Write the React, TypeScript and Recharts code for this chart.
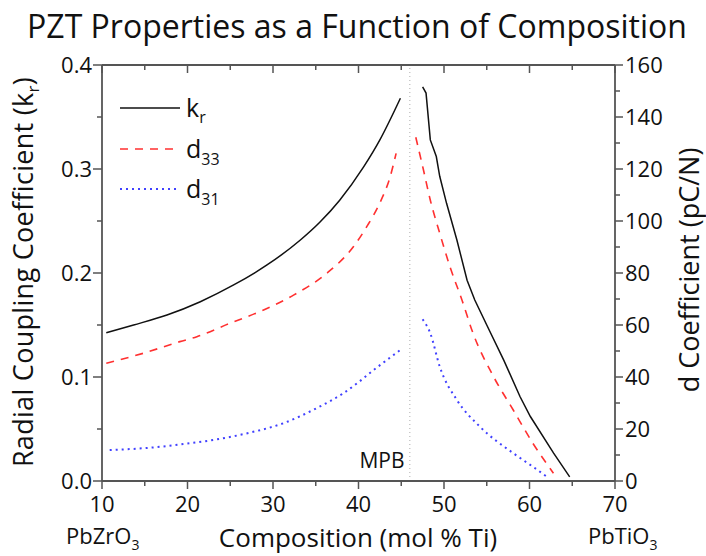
import React from "react";
import { LineChart, Line, XAxis, YAxis, ReferenceLine } from "recharts";

const krLeftX = [10.5, 13.7, 17.6, 21.5, 25.4, 29.3, 33.2, 35.5, 37.8, 40.6, 42.5, 44.9];
const krLeftY = [0.1426, 0.15, 0.1596, 0.1724, 0.1885, 0.2077, 0.2317, 0.249, 0.27, 0.302, 0.328, 0.368];
const krRightX = [47.5, 47.9, 48.4, 49.1, 49.5, 50.3, 51.5, 52.7, 53.6, 55.0, 57.0, 58.9, 60.1, 62.8, 64.7];
const krRightY = [0.379, 0.373, 0.328, 0.312, 0.293, 0.267, 0.232, 0.193, 0.174, 0.15, 0.116, 0.081, 0.062, 0.027, 0.004];
const d33LeftX = [10.5, 14.8, 19.1, 21.1, 25.0, 28.9, 32.4, 36.3, 39.4, 41.0, 42.5, 43.7, 44.4];
const d33LeftY = [45.3, 49.1, 53.6, 55.5, 60.7, 65.8, 71.5, 79.9, 90.1, 98, 107, 117, 126];
const d33RightX = [46.7, 47.6, 48.4, 49.5, 50.7, 52.1, 53.4, 55.8, 58.1, 60.4, 62.8];
const d33RightY = [132.2, 119.6, 108, 95.3, 82.4, 69.6, 56.8, 40.1, 27.3, 14.5, 3.0];
const d31LeftX = [10.9, 15.6, 19.5, 23.4, 27.3, 31.2, 35.1, 38.2, 40.2, 41.7, 43.3, 44.9];
const d31LeftY = [11.9, 12.8, 14.2, 16.0, 18.6, 22.2, 28.0, 33.7, 38.5, 42.5, 46.5, 50.4];
const d31RightX = [47.5, 48.4, 49.5, 51.5, 54.2, 58.1, 60.4, 62.0];
const d31RightY = [62.2, 56.8, 44, 31.2, 20.9, 10.7, 5.5, 1.7];

const xTicks = [10, 15, 20, 25, 30, 35, 40, 45, 50, 55, 60, 65, 70];
const leftTicks = [0, 0.05, 0.1, 0.15, 0.2, 0.25, 0.3, 0.35, 0.4];
const rightTicks = [0, 10, 20, 30, 40, 50, 60, 70, 80, 90, 100, 110, 120, 130, 140, 150, 160];
const mpbX = 46;

const zip = (xs: number[], ys: number[]) => xs.map((x, i) => ({ x, v: ys[i] }));

const W = 706;
const H = 556;
const TOP = 65;
const BOTTOM = 481;
const FONT = "'Open Sans', 'Noto Sans', sans-serif";
const AX = "#555";
const TICK_FS = 22;

const BottomTick = (props: any) => {
  const { x, payload } = props;
  const major = payload.value % 10 === 0;
  const len = major ? 8 : 5;
  return (
    <g>
      <line x1={x} x2={x} y1={BOTTOM} y2={BOTTOM + len} stroke={AX} strokeWidth={1.5} />
      <line x1={x} x2={x} y1={TOP} y2={TOP + len} stroke={AX} strokeWidth={1.5} />
      {major && (
        <text x={x} y={512} textAnchor="middle" fontSize={TICK_FS} fill="#111" fontFamily={FONT}>
          {payload.value}
        </text>
      )}
    </g>
  );
};

const LeftTick = (props: any) => {
  const { y, payload } = props;
  const major = Math.round(payload.value * 100) % 10 === 0;
  const len = major ? 9 : 5;
  return (
    <g>
      <line x1={102} x2={102 - len} y1={y} y2={y} stroke={AX} strokeWidth={1.5} />
      {major && (
        <text x={92} y={y + 8} textAnchor="end" fontSize={TICK_FS} fill="#111" fontFamily={FONT}>
          {payload.value.toFixed(1)}
        </text>
      )}
    </g>
  );
};

const RightTick = (props: any) => {
  const { y, payload } = props;
  const major = payload.value % 20 === 0;
  const len = major ? 8 : 5;
  return (
    <g>
      <line x1={615} x2={615 + len} y1={y} y2={y} stroke={AX} strokeWidth={1.5} />
      {major && (
        <text x={625} y={y + 8} textAnchor="start" fontSize={TICK_FS} fill="#111" fontFamily={FONT}>
          {payload.value}
        </text>
      )}
    </g>
  );
};

export default function App() {
  return (
    <div style={{ position: "absolute", left: 0, top: 0, width: W, height: H, background: "#fff" }}>
      <LineChart width={W} height={H} margin={{ top: TOP, right: 0, bottom: 0, left: 0 }}>
        <XAxis
          type="number"
          dataKey="x"
          domain={[10, 70]}
          ticks={xTicks}
          interval={0}
          tick={<BottomTick />}
          tickLine={false}
          axisLine={{ stroke: AX, strokeWidth: 1.8 }}
          height={75}
          allowDataOverflow
        />
        <YAxis
          yAxisId="k"
          type="number"
          domain={[0, 0.4]}
          ticks={leftTicks}
          interval={0}
          tick={<LeftTick />}
          tickLine={false}
          axisLine={{ stroke: AX, strokeWidth: 1.8 }}
          width={102}
          allowDataOverflow
        />
        <YAxis
          yAxisId="d"
          orientation="right"
          type="number"
          domain={[0, 160]}
          ticks={rightTicks}
          interval={0}
          tick={<RightTick />}
          tickLine={false}
          axisLine={{ stroke: AX, strokeWidth: 1.8 }}
          width={91}
          allowDataOverflow
        />
        <ReferenceLine yAxisId="k" y={0.4} stroke={AX} strokeWidth={1.8} />
        <ReferenceLine yAxisId="k" x={mpbX} stroke="#bbb" strokeWidth={1.2} strokeDasharray="1 3" />
        <Line yAxisId="k" data={zip(krLeftX, krLeftY)} dataKey="v" stroke="#111" strokeWidth={1.5} dot={false} type="monotone" isAnimationActive={false} />
        <Line yAxisId="k" data={zip(krRightX, krRightY)} dataKey="v" stroke="#111" strokeWidth={1.5} dot={false} type="linear" isAnimationActive={false} />
        <Line yAxisId="d" data={zip(d33LeftX, d33LeftY)} dataKey="v" stroke="#ff3030" strokeWidth={1.6} strokeDasharray="8 7" dot={false} type="monotone" isAnimationActive={false} />
        <Line yAxisId="d" data={zip(d33RightX, d33RightY)} dataKey="v" stroke="#ff3030" strokeWidth={1.6} strokeDasharray="8 7" dot={false} type="monotone" isAnimationActive={false} />
        <Line yAxisId="d" data={zip(d31LeftX, d31LeftY)} dataKey="v" stroke="#4040ff" strokeWidth={2} strokeDasharray="2 4" dot={false} type="monotone" isAnimationActive={false} />
        <Line yAxisId="d" data={zip(d31RightX, d31RightY)} dataKey="v" stroke="#4040ff" strokeWidth={2} strokeDasharray="2 4" dot={false} type="monotone" isAnimationActive={false} />
      </LineChart>
      <svg width={W} height={H} style={{ position: "absolute", left: 0, top: 0, pointerEvents: "none" }} fontFamily={FONT}>
        <text x={357} y={38} textAnchor="middle" fontSize={32} fill="#111">
          PZT Properties as a Function of Composition
        </text>
        <text transform="translate(33,272) rotate(-90)" textAnchor="middle" fontSize={27} fill="#111" letterSpacing={0.3}>
          Radial Coupling Coefficient (k<tspan fontSize={17} dy={6}>r</tspan><tspan dy={-6}>)</tspan>
        </text>
        <text transform="translate(699,270) rotate(-90)" textAnchor="middle" fontSize={27} fill="#111">
          d Coefficient (pC/N)
        </text>
        <text x={358} y={547} textAnchor="middle" fontSize={26} fill="#111">
          Composition (mol % Ti)
        </text>
        <text x={66} y={544} fontSize={22} fill="#111">
          PbZrO<tspan fontSize={14} dy={6}>3</tspan>
        </text>
        <text x={588} y={544} fontSize={22} fill="#111">
          PbTiO<tspan fontSize={14} dy={6}>3</tspan>
        </text>
        <text x={382} y={468} textAnchor="middle" fontSize={21} fill="#111">MPB</text>
        <line x1={120} x2={180} y1={108} y2={108} stroke="#111" strokeWidth={1.5} />
        <line x1={120} x2={180} y1={149} y2={149} stroke="#ff3030" strokeWidth={1.6} strokeDasharray="8 7" />
        <line x1={120} x2={180} y1={189} y2={189} stroke="#4040ff" strokeWidth={2} strokeDasharray="2 4" />
        <text x={186} y={117} fontSize={25} fill="#111">k<tspan fontSize={16} dy={6}>r</tspan></text>
        <text x={186} y={158} fontSize={25} fill="#111">d<tspan fontSize={16} dy={7}>33</tspan></text>
        <text x={186} y={198} fontSize={25} fill="#111">d<tspan fontSize={16} dy={7}>31</tspan></text>
      </svg>
    </div>
  );
}
